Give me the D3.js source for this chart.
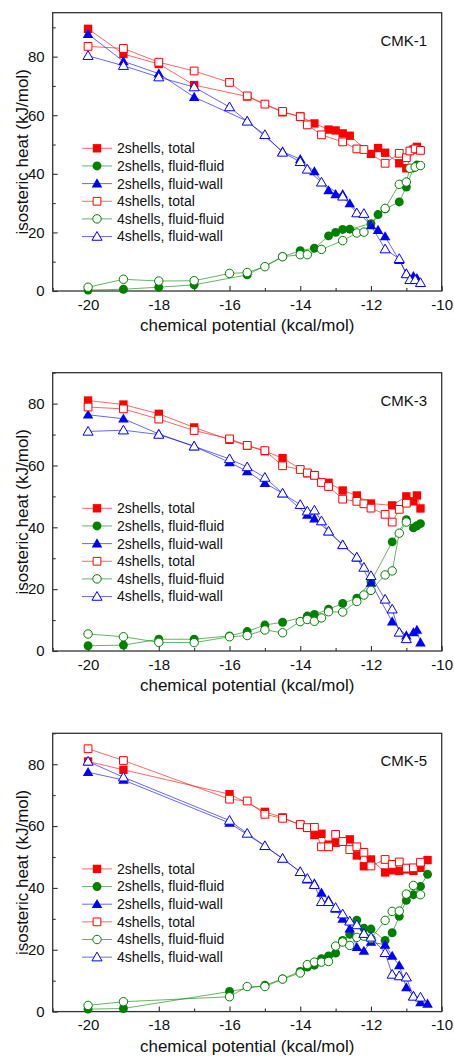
<!DOCTYPE html>
<html>
<head>
<meta charset="utf-8">
<script src="https://cdn.jsdelivr.net/npm/d3@7"></script>
<style>
  body { margin: 0; background: #fff; }
  svg { display: block; font-family: "Liberation Sans", Arial, sans-serif; }
</style>
</head>
<body>
<div id="chart"></div>
<script>
// ---- data ----
// CMK-1
let cmk1_x2 = [-20, -19, -18, -17, -15.5, -14.5, -14, -13.6, -13.2, -13, -12.8, -12.6, -12, -11.8, -11.6, -11.2, -11, -10.8, -10.7];
let cmk1_total2 = [89.5, 80.9, 77.5, 70.3, 66.4, 61, 59.6, 57.2, 55.1, 54.8, 53.8, 53, 46.8, 48.8, 47.2, 43.6, 41.9, 48.3, 49.2];
let cmk1_ff2 = [0.3, 0.6, 1.3, 2.1, 5.5, 11.7, 13.8, 14.6, 18.8, 20, 21, 21.1, 23, 26.1, 28, 30.4, 35.5, 42, 43];
let cmk1_fw2 = [87.7, 78.4, 74.2, 66.2, 58, 47.6, 45, 40.8, 34.3, 33, 33, 29.9, 22.4, 20.8, 18.6, 10.5, 6, 5, 4.3];
let cmk1_x4 = [-20, -19, -18, -17, -16, -15.5, -15, -14.5, -14, -13.8, -13.4, -12.8, -12.4, -12.2, -11.6, -11.2, -11, -10.9, -10.75, -10.6];
let cmk1_total4 = [83.5, 82.8, 78.1, 75.1, 71.2, 66.6, 63.8, 61.3, 59.5, 56.7, 53.3, 50.9, 48.5, 48.3, 43.6, 47, 45.5, 47.8, 48.5, 48];
let cmk1_ff4 = [1.3, 4, 3.4, 3.5, 6, 6.3, 8.3, 11.7, 12.4, 12.4, 14.2, 17.2, 19.8, 20.1, 28.2, 36.4, 37.2, 41.9, 42.3, 42.8];
let cmk1_fw4 = [80.3, 76.9, 73, 69.6, 62.8, 57.9, 53.3, 47.3, 44.1, 41.5, 37.1, 32.3, 26.6, 26.4, 14.3, 11, 5.8, 3.8, 3.8, 2.8];

// CMK-3
let cmk3_x2 = [-20, -19, -18, -17, -16, -15.5, -15, -14.5, -13.8, -13.6, -13.2, -12.8, -12.4, -12, -11.4, -11, -10.8, -10.7, -10.6];
let cmk3_total2 = [81, 79.7, 76.7, 72.3, 68.3, 66.4, 64.6, 62.4, 57.5, 56.9, 54.4, 51.9, 50.3, 47.7, 47.1, 50, 48.4, 50.3, 46.1];
let cmk3_ff2 = [1.7, 1.9, 3.8, 3.8, 4.9, 6.3, 8.4, 9.3, 11.3, 11.8, 13.5, 15.4, 17.1, 22.4, 35.3, 42.5, 39.8, 40.5, 41.2];
let cmk3_fw2 = [76.4, 75.1, 70.2, 66.2, 61, 58.1, 54.3, 51, 44, 42.8, 38.7, 34.3, 30.2, 22, 9.5, 5, 6, 6.8, 2.7];
let cmk3_x4 = [-20, -19, -18, -17, -16, -15.5, -15, -14.5, -14, -13.8, -13.6, -13.4, -13.2, -12.8, -12.4, -12.2, -12, -11.6, -11.4, -11.2, -11];
let cmk3_total4 = [78.9, 78.3, 75, 71.3, 68.6, 66.5, 64.8, 59.9, 58.7, 57.6, 56.8, 54.5, 53.2, 49.1, 48.4, 47.6, 46.2, 44.2, 41.7, 45.8, 47.8];
let cmk3_ff4 = [5.5, 4.6, 2.8, 2.7, 4.6, 5, 6.8, 5.9, 9.5, 10.2, 9.6, 10.7, 12.7, 12.6, 16, 18.1, 19.6, 24.6, 25.9, 38.1, 41.7];
let cmk3_fw4 = [71, 71.4, 70, 66.2, 62.1, 59.5, 56.1, 51, 47.3, 45.2, 45.5, 42, 38.7, 34.3, 30.3, 27, 24.3, 16.7, 13.5, 6, 3.9];

// CMK-5
let cmk5_x2 = [-20, -19, -16, -15, -14.5, -14, -13.8, -13.6, -13.4, -13.2, -13, -12.8, -12.6, -12.4, -12.2, -12, -11.6, -11.4, -11.2, -11, -10.8, -10.6, -10.4];
let cmk5_total2 = [80.9, 78.2, 70.3, 64.6, 62.8, 60.4, 59.4, 57.1, 57.5, 54, 54.6, 54.9, 55.7, 50.5, 47, 49.2, 45, 45.7, 45.5, 46, 45.5, 46.5, 49];
let cmk5_ff2 = [0.8, 1, 6.5, 8.5, 10.6, 13, 14.4, 15, 17.1, 18, 18.9, 23, 25, 29.6, 27, 26.7, 23, 25.5, 30.8, 36, 37.8, 40.5, 44.4];
let cmk5_fw2 = [77.4, 74.9, 61, 53.5, 49.5, 45.2, 42.7, 41.4, 38.4, 36, 33.2, 30, 26.8, 20.8, 19.6, 22.5, 21.6, 18, 14.9, 7.8, 5, 3, 2.5];
let cmk5_x4 = [-20, -19, -16, -15.5, -15, -14.5, -14, -13.8, -13.6, -13.4, -13.2, -13, -12.8, -12.6, -12.4, -12.2, -12, -11.6, -11.4, -11.2, -11, -10.8, -10.6];
let cmk5_total4 = [85, 81.2, 68.7, 68.1, 63.8, 62.5, 60.5, 59.5, 59.6, 53.3, 53.3, 57.3, 55, 52.4, 53.3, 51.5, 47.1, 49.2, 47.6, 48.4, 46.4, 46.5, 48.3];
let cmk5_ff4 = [2, 3.2, 4.8, 8.1, 8.1, 10.5, 12.5, 15.2, 16, 16, 16.2, 21.2, 22.5, 21.4, 24, 24.4, 23.6, 29.5, 32.4, 32.5, 38, 40.8, 37.8];
let cmk5_fw4 = [80.9, 75.8, 61.8, 57.6, 53.6, 49.5, 45.2, 43, 41, 35.5, 35.5, 33.6, 31.5, 29.2, 28, 25.2, 24, 19, 12, 11.5, 11.1, 4.9, 4.6];

let panelNames = ["CMK-1", "CMK-3", "CMK-5"];
let panelYMax = [95, 90, 90];
let legendLabels = ["2shells, total", "2shells, fluid-fluid", "2shells, fluid-wall",
                    "4shells, total", "4shells, fluid-fluid", "4shells, fluid-wall"];
let xTicks = [-20, -18, -16, -14, -12, -10];
let xMinorTicks = [-21, -19, -17, -15, -13, -11];
let yTicks = [0, 20, 40, 60, 80];
let yMinorTicks = [10, 30, 50, 70, 90];

// ---- layout ----
let svgWidth = 454;
let svgHeight = 1059;
let plotLeft = 52.7, plotRight = 441.7, plotHeight = 278.3;
let panelTops = [12.7, 372.7, 733.3];

let svg = d3.select("#chart").append("svg")
    .attr("width", svgWidth)
    .attr("height", svgHeight);

// series styles in legend order
let seriesStyle = [
    { color: "#ff0000", shape: d3.symbolSquare, size: 70, filled: true },
    { color: "#008000", shape: d3.symbolCircle, size: 62, filled: true },
    { color: "#0000ff", shape: d3.symbolTriangle, size: 48, filled: true },
    { color: "#ff0000", shape: d3.symbolSquare, size: 60, filled: false },
    { color: "#008000", shape: d3.symbolCircle, size: 56, filled: false },
    { color: "#0000ff", shape: d3.symbolTriangle, size: 44, filled: false }
];

let panelData = [
    [[cmk1_x2, cmk1_total2], [cmk1_x2, cmk1_ff2], [cmk1_x2, cmk1_fw2], [cmk1_x4, cmk1_total4], [cmk1_x4, cmk1_ff4], [cmk1_x4, cmk1_fw4]],
    [[cmk3_x2, cmk3_total2], [cmk3_x2, cmk3_ff2], [cmk3_x2, cmk3_fw2], [cmk3_x4, cmk3_total4], [cmk3_x4, cmk3_ff4], [cmk3_x4, cmk3_fw4]],
    [[cmk5_x2, cmk5_total2], [cmk5_x2, cmk5_ff2], [cmk5_x2, cmk5_fw2], [cmk5_x4, cmk5_total4], [cmk5_x4, cmk5_ff4], [cmk5_x4, cmk5_fw4]]
];

function symbolOffset(style) {
    // shift triangles so they look centred on the point
    return style.shape === d3.symbolTriangle ? 0.8 : 0;
}

panelNames.forEach((name, p) => {
    let top = panelTops[p];
    let bottom = top + plotHeight;

    let xScale = d3.scaleLinear().domain([-21, -10]).range([plotLeft, plotRight]);
    let yScale = d3.scaleLinear().domain([0, panelYMax[p]]).range([bottom, top]);

    let g = svg.append("g");

    // axes with inward ticks
    let xAxis = g.append("g")
        .attr("transform", `translate(0, ${bottom})`)
        .call(d3.axisBottom(xScale).tickValues(xTicks).tickSize(-5).tickPadding(8).tickFormat(d => String(d)));
    g.append("g")
        .attr("transform", `translate(0, ${bottom})`)
        .call(d3.axisBottom(xScale).tickValues(xMinorTicks).tickSize(-3).tickFormat(""));
    let yAxis = g.append("g")
        .attr("transform", `translate(${plotLeft}, 0)`)
        .call(d3.axisLeft(yScale).tickValues(yTicks).tickSize(-5).tickPadding(8).tickFormat(d => String(d)));
    g.append("g")
        .attr("transform", `translate(${plotLeft}, 0)`)
        .call(d3.axisLeft(yScale).tickValues(yMinorTicks).tickSize(-3).tickFormat(""));

    g.selectAll(".domain").remove();
    g.selectAll(".tick line").attr("stroke", "#333").attr("stroke-width", 1.1);
    g.selectAll(".tick text").attr("font-size", 15).attr("fill", "#111")
        .attr("font-family", "'Liberation Sans', Arial, sans-serif");

    // frame
    g.append("rect")
        .attr("x", plotLeft)
        .attr("y", top)
        .attr("width", plotRight - plotLeft)
        .attr("height", plotHeight)
        .attr("fill", "none")
        .attr("stroke", "#333")
        .attr("stroke-width", 1.3);

    // series
    let line = d3.line().x(d => xScale(d[0])).y(d => yScale(d[1]));
    panelData[p].forEach((pair, s) => {
        let style = seriesStyle[s];
        let pts = pair[0].map((x, i) => [x, pair[1][i]]);
        g.append("path")
            .datum(pts)
            .attr("d", line)
            .attr("fill", "none")
            .attr("stroke", style.color)
            .attr("stroke-opacity", 0.6)
            .attr("stroke-width", 1);
        g.append("g").selectAll("path")
            .data(pts)
            .enter()
            .append("path")
            .attr("d", d3.symbol().type(style.shape).size(style.size))
            .attr("transform", d => `translate(${xScale(d[0])}, ${yScale(d[1]) + symbolOffset(style)})`)
            .attr("fill", style.filled ? style.color : "#fff")
            .attr("stroke", style.filled ? "none" : style.color)
            .attr("stroke-width", 1);
    });

    // legend
    let legend = g.append("g");
    legendLabels.forEach((label, i) => {
        let style = seriesStyle[i];
        let ly = top + 135.6 + i * 17.65;
        let lx = plotLeft + 29.3;
        legend.append("line")
            .attr("x1", lx).attr("x2", lx + 30)
            .attr("y1", ly).attr("y2", ly)
            .attr("stroke", style.color)
            .attr("stroke-opacity", 0.6)
            .attr("stroke-width", 1);
        legend.append("path")
            .attr("d", d3.symbol().type(style.shape).size(style.size))
            .attr("transform", `translate(${lx + 15}, ${ly + symbolOffset(style)})`)
            .attr("fill", style.filled ? style.color : "#fff")
            .attr("stroke", style.filled ? "none" : style.color)
            .attr("stroke-width", 1);
        legend.append("text")
            .attr("x", lx + 35)
            .attr("y", ly)
            .attr("dy", "0.35em")
            .attr("font-size", 14)
            .attr("fill", "#111")
            .text(label);
    });

    // panel name
    g.append("text")
        .attr("x", plotRight - 14.5)
        .attr("y", top + 33)
        .attr("text-anchor", "end")
        .attr("font-size", 15)
        .attr("fill", "#111")
        .text(name);

    // axis titles
    g.append("text")
        .attr("x", (plotLeft + plotRight) / 2)
        .attr("y", bottom + 40)
        .attr("text-anchor", "middle")
        .attr("font-size", 17)
        .attr("fill", "#111")
        .text("chemical potential (kcal/mol)");
    g.append("text")
        .attr("transform", `translate(28, ${(top + bottom) / 2}) rotate(-90)`)
        .attr("text-anchor", "middle")
        .attr("font-size", 17)
        .attr("fill", "#111")
        .text("isosteric heat (kJ/mol)");
});
</script>
</body>
</html>
